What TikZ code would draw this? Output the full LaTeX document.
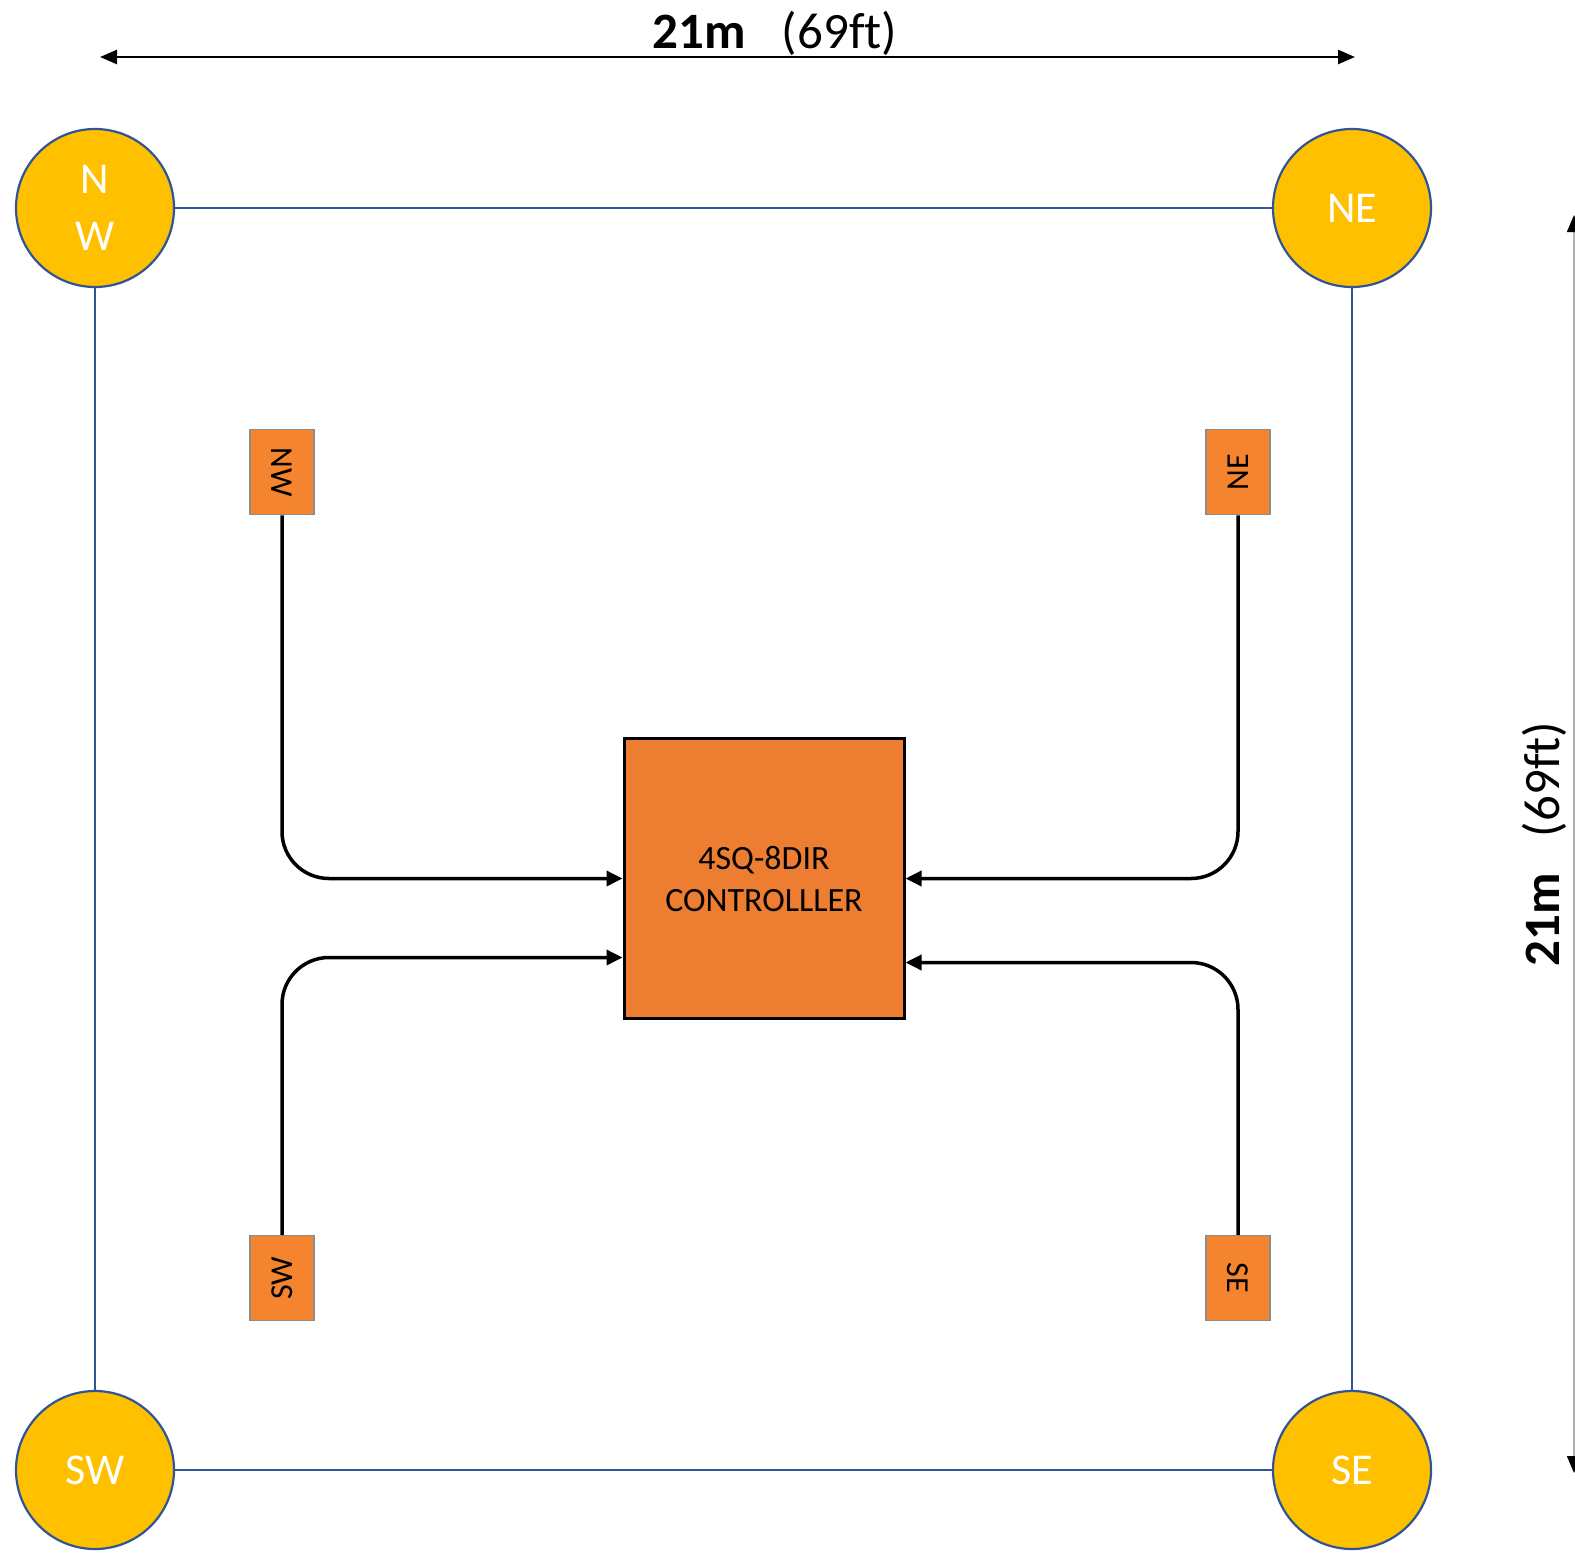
\documentclass[tikz,border=0pt]{standalone}
\usepackage{fontspec}
\setmainfont{Carlito}[Ligatures={NoCommon}]
\usepackage{graphicx}
\usepackage{tikz}
\usetikzlibrary{arrows.meta,calc,positioning}
\definecolor{Lamp}{HTML}{FFC000}
\definecolor{LampEdge}{HTML}{2F5597}
\definecolor{Sensor}{HTML}{F5842F}
\definecolor{SensorEdge}{HTML}{8C8C8C}
\definecolor{Ctrl}{HTML}{ED7D31}
\definecolor{Ink}{HTML}{000000}

\begin{document}
\begin{tikzpicture}[x=1pt,y=-1pt,
    lamp/.style={circle,draw=LampEdge,line width=2.2pt,fill=Lamp,minimum size=158pt,inner sep=0pt,text=white,align=center,font=\fontsize{44}{57}\selectfont},
    fence/.style={draw=LampEdge,line width=2.2pt},
    sensor/.style={draw=SensorEdge,line width=1.5pt,fill=Sensor,minimum width=64pt,minimum height=85pt,inner sep=0pt,font=\fontsize{32}{36}\selectfont},
    wire/.style={draw=Ink,line width=3.5pt,rounded corners=47pt,-{Triangle[length=16pt,width=15pt]}},
    dimline/.style={line width=2.5pt,{Triangle[length=17pt,width=14pt]}-{Triangle[length=17pt,width=14pt]}},
    dimfont/.style={font=\fontsize{51}{56}\selectfont}]
    \useasboundingbox (0,0) rectangle (1575,1553);

    % corner lamps
    \node[lamp] (nw) at (95,208) {N\\W};
    \node[lamp] (ne) at (1352,208) {NE};
    \node[lamp] (sw) at (95,1470) {SW};
    \node[lamp] (se) at (1352,1470) {SE};
    \draw[fence] (nw) -- (ne);
    \draw[fence] (ne) -- (se);
    \draw[fence] (se) -- (sw);
    \draw[fence] (sw) -- (nw);

    % sensors
    \node[sensor] (snw) at (282,472) {\rotatebox{-90}{NW}};
    \node[sensor] (sne) at (1238,472) {\rotatebox{90}{NE}};
    \node[sensor] (ssw) at (282,1278) {\rotatebox{90}{SW}};
    \node[sensor] (sse) at (1238,1278) {\rotatebox{-90}{SE}};

    % controller
    \node[draw=Ink,line width=3pt,fill=Ctrl,minimum size=280pt,inner sep=0pt,align=center,font=\fontsize{34}{42}\selectfont] (ctrl) at (764,878.5) {4SQ-8DIR\\CONTROLLLER};

    \draw[wire] (snw.south) |- (ctrl.west);
    \draw[wire] (sne.south) |- (ctrl.east);
    \draw[wire] (ssw.north) |- ([yshift=-79pt]ctrl.west);
    \draw[wire] (sse.north) |- ([yshift=-84pt]ctrl.east);

    % dimensions
    \coordinate (dl) at (100,57);
    \coordinate (dr) at (1355,57);
    \draw[dimline] (dl) -- (dr);
    \node[dimfont,anchor=base,inner sep=0pt] (wlabel) at (775,48) {\textbf{21m}\hspace{36pt}(69ft)};
    \coordinate (dt) at (1574,215);
    \coordinate (db) at (1574,1473);
    \draw[line width=1.5pt,draw=black!30,{Triangle[length=17pt,width=14pt,black]}-{Triangle[length=17pt,width=14pt,black]}] (dt) -- (db);
    \node[dimfont,anchor=base,inner sep=0pt,rotate=90] (hlabel) at (1559,844) {\textbf{21m}\hspace{36pt}(69ft)};
\end{tikzpicture}
\end{document}
